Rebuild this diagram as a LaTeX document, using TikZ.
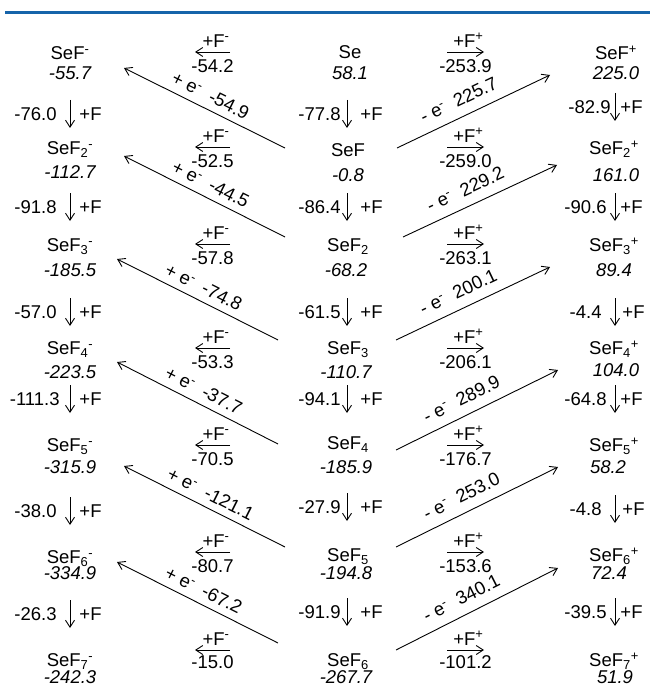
\documentclass[tikz,border=0pt]{standalone}
\usepackage{fontspec}
\setmainfont{Liberation Sans}
\usepackage{tikz}
\usetikzlibrary{arrows.meta,positioning}
\definecolor{rulecol}{RGB}{22,100,170}
\newcommand{\chgm}{\textsuperscript{-}}
\newcommand{\chgp}{\textsuperscript{+}}

\begin{document}
\begin{tikzpicture}[
    x=1pt, y=-1pt,
    txt/.style={inner sep=0pt, text height=13pt, text depth=0pt, font=\fontsize{18.5}{22}\selectfont},
    species/.style={txt},
    energy/.style={txt, font=\fontsize{18.5}{22}\selectfont\itshape},
    arrow/.style={-{Straight Barb[length=7pt,width=9pt]}, line width=0.9pt}
]
\useasboundingbox (0,0) rectangle (650,687);
\draw[rulecol, line width=3pt] (5,13) -- (650,13);

% anions
\node[species] (an0) at (70,53) {SeF\chgm};
\node[energy] (an0v) at (70,73) {-55.7};
\node[species] (an1) at (70,148) {SeF\textsubscript{2}\chgm};
\node[energy] (an1v) at (70,172) {-112.7};
\node[species] (an2) at (70,245) {SeF\textsubscript{3}\chgm};
\node[energy] (an2v) at (70,270) {-185.5};
\node[species] (an3) at (70,348) {SeF\textsubscript{4}\chgm};
\node[energy] (an3v) at (70,372) {-223.5};
\node[species] (an4) at (70,445) {SeF\textsubscript{5}\chgm};
\node[energy] (an4v) at (70,467) {-315.9};
\node[species] (an5) at (70,557) {SeF\textsubscript{6}\chgm};
\node[energy] (an5v) at (70,573) {-334.9};
\node[species] (an6) at (70,660) {SeF\textsubscript{7}\chgm};
\node[energy] (an6v) at (70,677) {-242.3};

% neutrals
\node[species] (ne0) at (350,52) {Se};
\node[energy] (ne0v) at (350,73) {58.1};
\node[species] (ne1) at (348,150) {SeF};
\node[energy] (ne1v) at (348,175) {-0.8};
\node[species] (ne2) at (348,245) {SeF\textsubscript{2}};
\node[energy] (ne2v) at (346,270) {-68.2};
\node[species] (ne3) at (348,348) {SeF\textsubscript{3}};
\node[energy] (ne3v) at (346,372) {-110.7};
\node[species] (ne4) at (348,443) {SeF\textsubscript{4}};
\node[energy] (ne4v) at (346,467) {-185.9};
\node[species] (ne5) at (348,555) {SeF\textsubscript{5}};
\node[energy] (ne5v) at (346,573) {-194.8};
\node[species] (ne6) at (348,660) {SeF\textsubscript{6}};
\node[energy] (ne6v) at (346,677) {-267.7};

% cations
\node[species] (ca0) at (616,53) {SeF\chgp};
\node[energy] (ca0v) at (616,73) {225.0};
\node[species] (ca1) at (614,148) {SeF\textsubscript{2}\chgp};
\node[energy] (ca1v) at (616,175) {161.0};
\node[species] (ca2) at (614,245) {SeF\textsubscript{3}\chgp};
\node[energy] (ca2v) at (614,270) {89.4};
\node[species] (ca3) at (614,348) {SeF\textsubscript{4}\chgp};
\node[energy] (ca3v) at (616,370) {104.0};
\node[species] (ca4) at (614,445) {SeF\textsubscript{5}\chgp};
\node[energy] (ca4v) at (608,467) {58.2};
\node[species] (ca5) at (614,555) {SeF\textsubscript{6}\chgp};
\node[energy] (ca5v) at (609,573) {72.4};
\node[species] (ca6) at (614,660) {SeF\textsubscript{7}\chgp};
\node[energy] (ca6v) at (615,677) {51.9};

% +F steps, anion column
\coordinate (vl0a) at (70,100); \coordinate (vl0b) at (70,128);
\coordinate (vl1a) at (70,193); \coordinate (vl1b) at (70,221);
\coordinate (vl2a) at (70,298); \coordinate (vl2b) at (70,326);
\coordinate (vl3a) at (70,385); \coordinate (vl3b) at (70,413);
\coordinate (vl4a) at (70,497); \coordinate (vl4b) at (70,525);
\coordinate (vl5a) at (70,600); \coordinate (vl5b) at (70,628);
\draw[arrow] (vl0a) -- node[txt, left=13pt]{-76.0} node[txt, right=9pt]{+F} (vl0b);
\draw[arrow] (vl1a) -- node[txt, left=13pt]{-91.8} node[txt, right=9pt]{+F} (vl1b);
\draw[arrow] (vl2a) -- node[txt, left=13pt]{-57.0} node[txt, right=9pt]{+F} (vl2b);
\draw[arrow] (vl3a) -- node[txt, left=10pt]{-111.3} node[txt, right=9pt]{+F} (vl3b);
\draw[arrow] (vl4a) -- node[txt, left=13pt]{-38.0} node[txt, right=9pt]{+F} (vl4b);
\draw[arrow] (vl5a) -- node[txt, left=13pt]{-26.3} node[txt, right=9pt]{+F} (vl5b);

% +F steps, neutral column
\coordinate (vm0a) at (347,100); \coordinate (vm0b) at (347,128);
\coordinate (vm1a) at (347,193); \coordinate (vm1b) at (347,221);
\coordinate (vm2a) at (347,298); \coordinate (vm2b) at (347,326);
\coordinate (vm3a) at (347,385); \coordinate (vm3b) at (347,413);
\coordinate (vm4a) at (347,493); \coordinate (vm4b) at (347,521);
\coordinate (vm5a) at (347,598); \coordinate (vm5b) at (347,626);
\draw[arrow] (vm0a) -- node[txt, left=6pt]{-77.8} node[txt, right=13pt]{+F} (vm0b);
\draw[arrow] (vm1a) -- node[txt, left=6pt]{-86.4} node[txt, right=13pt]{+F} (vm1b);
\draw[arrow] (vm2a) -- node[txt, left=6pt]{-61.5} node[txt, right=13pt]{+F} (vm2b);
\draw[arrow] (vm3a) -- node[txt, left=6pt]{-94.1} node[txt, right=13pt]{+F} (vm3b);
\draw[arrow] (vm4a) -- node[txt, left=6pt]{-27.9} node[txt, right=13pt]{+F} (vm4b);
\draw[arrow] (vm5a) -- node[txt, left=6pt]{-91.9} node[txt, right=13pt]{+F} (vm5b);

% +F steps, cation column
\coordinate (vr0a) at (615,93); \coordinate (vr0b) at (615,121);
\coordinate (vr1a) at (615,193); \coordinate (vr1b) at (615,221);
\coordinate (vr2a) at (615,298); \coordinate (vr2b) at (615,326);
\coordinate (vr3a) at (615,385); \coordinate (vr3b) at (615,413);
\coordinate (vr4a) at (615,495); \coordinate (vr4b) at (615,523);
\coordinate (vr5a) at (615,598); \coordinate (vr5b) at (615,626);
\draw[arrow] (vr0a) -- node[txt, left=4pt]{-82.9} node[txt, right=5pt]{+F} (vr0b);
\draw[arrow] (vr1a) -- node[txt, left=8pt]{-90.6} node[txt, right=5pt]{+F} (vr1b);
\draw[arrow] (vr2a) -- node[txt, left=13pt]{-4.4} node[txt, right=7pt]{+F} (vr2b);
\draw[arrow] (vr3a) -- node[txt, left=8pt]{-64.8} node[txt, right=5pt]{+F} (vr3b);
\draw[arrow] (vr4a) -- node[txt, left=13pt]{-4.8} node[txt, right=7pt]{+F} (vr4b);
\draw[arrow] (vr5a) -- node[txt, left=8pt]{-39.5} node[txt, right=5pt]{+F} (vr5b);

% +F- (left) and +F+ (right) transfers
\coordinate (fl0a) at (230,52);  \coordinate (fl0b) at (195,52);
\coordinate (fl1a) at (230,147); \coordinate (fl1b) at (195,147);
\coordinate (fl2a) at (230,244); \coordinate (fl2b) at (195,244);
\coordinate (fl3a) at (230,348); \coordinate (fl3b) at (195,348);
\coordinate (fl4a) at (230,445); \coordinate (fl4b) at (195,445);
\coordinate (fl5a) at (230,552); \coordinate (fl5b) at (195,552);
\coordinate (fl6a) at (230,650); \coordinate (fl6b) at (195,650);
\draw[arrow] (fl0a) -- node[txt, pos=0, anchor=south east, yshift=4.5pt]{+F\chgm} node[txt, below=7.5pt]{-54.2} (fl0b);
\draw[arrow] (fl1a) -- node[txt, pos=0, anchor=south east, yshift=4.5pt]{+F\chgm} node[txt, below=7.5pt]{-52.5} (fl1b);
\draw[arrow] (fl2a) -- node[txt, pos=0, anchor=south east, yshift=4.5pt]{+F\chgm} node[txt, below=7.5pt]{-57.8} (fl2b);
\draw[arrow] (fl3a) -- node[txt, pos=0, anchor=south east, yshift=4.5pt]{+F\chgm} node[txt, below=7.5pt]{-53.3} (fl3b);
\draw[arrow] (fl4a) -- node[txt, pos=0, anchor=south east, yshift=4.5pt]{+F\chgm} node[txt, below=7.5pt]{-70.5} (fl4b);
\draw[arrow] (fl5a) -- node[txt, pos=0, anchor=south east, yshift=4.5pt]{+F\chgm} node[txt, below=7.5pt]{-80.7} (fl5b);
\draw[arrow] (fl6a) -- node[txt, pos=0, anchor=south east, yshift=4.5pt]{+F\chgm} node[txt, below=5pt]{-15.0} (fl6b);

\coordinate (fr0a) at (447,52);  \coordinate (fr0b) at (484,52);
\coordinate (fr1a) at (447,147); \coordinate (fr1b) at (484,147);
\coordinate (fr2a) at (447,244); \coordinate (fr2b) at (484,244);
\coordinate (fr3a) at (447,348); \coordinate (fr3b) at (484,348);
\coordinate (fr4a) at (447,445); \coordinate (fr4b) at (484,445);
\coordinate (fr5a) at (447,552); \coordinate (fr5b) at (484,552);
\coordinate (fr6a) at (447,650); \coordinate (fr6b) at (484,650);
\draw[arrow] (fr0a) -- node[txt, pos=1, anchor=south east, yshift=4.5pt]{+F\chgp} node[txt, below=7.5pt]{-253.9} (fr0b);
\draw[arrow] (fr1a) -- node[txt, pos=1, anchor=south east, yshift=4.5pt]{+F\chgp} node[txt, below=7.5pt]{-259.0} (fr1b);
\draw[arrow] (fr2a) -- node[txt, pos=1, anchor=south east, yshift=4.5pt]{+F\chgp} node[txt, below=7.5pt]{-263.1} (fr2b);
\draw[arrow] (fr3a) -- node[txt, pos=1, anchor=south east, yshift=4.5pt]{+F\chgp} node[txt, below=7.5pt]{-206.1} (fr3b);
\draw[arrow] (fr4a) -- node[txt, pos=1, anchor=south east, yshift=4.5pt]{+F\chgp} node[txt, below=7.5pt]{-176.7} (fr4b);
\draw[arrow] (fr5a) -- node[txt, pos=1, anchor=south east, yshift=4.5pt]{+F\chgp} node[txt, below=7.5pt]{-153.6} (fr5b);
\draw[arrow] (fr6a) -- node[txt, pos=1, anchor=south east, yshift=4.5pt]{+F\chgp} node[txt, below=5pt]{-101.2} (fr6b);

% electron attachment (to anions)
\coordinate (ea0a) at (285,148); \coordinate (ea0b) at (124,68);
\coordinate (ea1a) at (285,237); \coordinate (ea1b) at (124,156);
\coordinate (ea2a) at (278,340); \coordinate (ea2b) at (117,259);
\coordinate (ea3a) at (278,444); \coordinate (ea3b) at (117,362);
\coordinate (ea4a) at (285,547); \coordinate (ea4b) at (124,466);
\coordinate (ea5a) at (278,643); \coordinate (ea5b) at (117,562);
\draw[arrow] (ea0a) -- node[txt, sloped, above=7pt]{+ e\chgm\ \ -54.9} (ea0b);
\draw[arrow] (ea1a) -- node[txt, sloped, above=7pt]{+ e\chgm\ \ -44.5} (ea1b);
\draw[arrow] (ea2a) -- node[txt, sloped, above=7pt]{+ e\chgm\ \ -74.8} (ea2b);
\draw[arrow] (ea3a) -- node[txt, sloped, above=7pt]{+ e\chgm\ \ -37.7} (ea3b);
\draw[arrow] (ea4a) -- node[txt, sloped, above=7pt]{+ e\chgm\ \ -121.1} (ea4b);
\draw[arrow] (ea5a) -- node[txt, sloped, above=7pt]{+ e\chgm\ \ -67.2} (ea5b);

% ionisation (to cations)
\coordinate (io0a) at (397,148); \coordinate (io0b) at (550,75);
\coordinate (io1a) at (403,237); \coordinate (io1b) at (557,165);
\coordinate (io2a) at (396,340); \coordinate (io2b) at (550,267);
\coordinate (io3a) at (396,450); \coordinate (io3b) at (558,370);
\coordinate (io4a) at (396,547); \coordinate (io4b) at (558,467);
\coordinate (io5a) at (396,650); \coordinate (io5b) at (558,568);
\draw[arrow] (io0a) -- node[txt, sloped, pos=0.45, above=10pt]{- e\chgm\ \ 225.7} (io0b);
\draw[arrow] (io1a) -- node[txt, sloped, pos=0.45, above=10pt]{- e\chgm\ \ 229.2} (io1b);
\draw[arrow] (io2a) -- node[txt, sloped, pos=0.45, above=10pt]{- e\chgm\ \ 200.1} (io2b);
\draw[arrow] (io3a) -- node[txt, sloped, pos=0.45, above=10pt]{- e\chgm\ \ 289.9} (io3b);
\draw[arrow] (io4a) -- node[txt, sloped, pos=0.45, above=10pt]{- e\chgm\ \ 253.0} (io4b);
\draw[arrow] (io5a) -- node[txt, sloped, pos=0.45, above=10pt]{- e\chgm\ \ 340.1} (io5b);
\end{tikzpicture}
\end{document}
